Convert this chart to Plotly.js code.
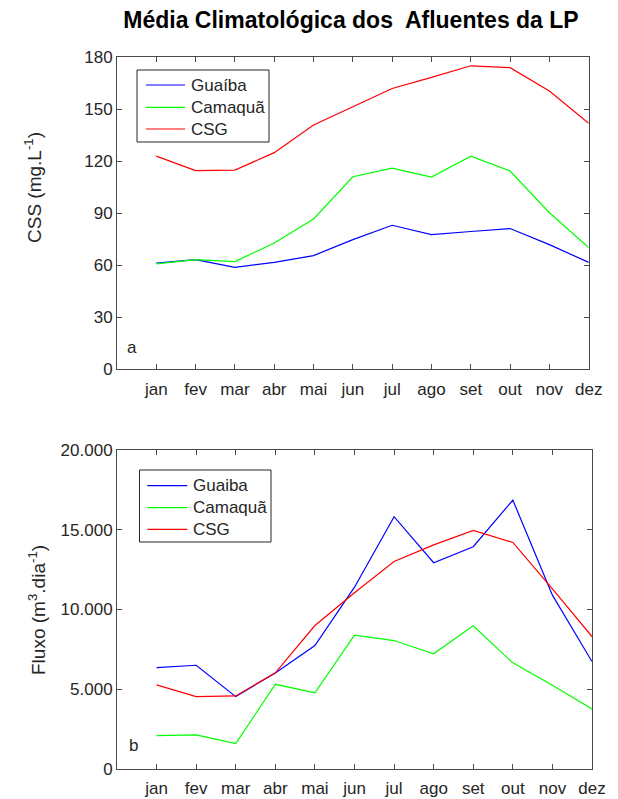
<!DOCTYPE html>
<html>
<head>
<meta charset="utf-8">
<script src="https://cdn.plot.ly/plotly-3.0.1.min.js"></script>
<style>html,body{margin:0;padding:0;background:#fff;}#chart{width:618px;height:799px;}</style>
</head>
<body>
<div id="chart"></div>
<script>
const months = ['jan','fev','mar','abr','mai','jun','jul','ago','set','out','nov','dez'];

// Panel a: CSS (mg.L-1)
const cssGuaiba  = [61.3, 63.3, 58.8, 61.7, 65.6, 74.8, 83.1, 77.7, 79.5, 81.2, 71.9, 61.7];
const cssCamaqua = [60.8, 63.3, 62.1, 72.9, 86.7, 111.1, 116.1, 110.9, 123.0, 114.4, 90.3, 70.2];
const cssCSG     = [123.0, 114.6, 114.9, 125.0, 141.0, 151.6, 162.0, 168.4, 175.1, 174.0, 160.5, 142.0];

// Panel b: Fluxo (m3.dia-1)
const flxGuaiba  = [6359, 6504, 4539, 6026, 7740, 11400, 15819, 12931, 13936, 16861, 10900, 6736];
const flxCamaqua = [2090, 2134, 1588, 5311, 4771, 8387, 8054, 7219, 8977, 6654, 5248, 3766];
const flxCSG     = [5273, 4539, 4582, 6026, 8996, 11050, 13013, 14050, 14959, 14206, 11300, 8305];

const names1 = ['Guaíba', 'Camaquã', 'CSG'];
const names2 = ['Guaiba', 'Camaquã', 'CSG'];
const colors = ['#0000ff', '#00ff00', '#ff0000'];

const FONT = 'Liberation Sans, Arial, Helvetica, sans-serif';
const INK = '#262626';

function tr(y, name, color, xa, ya) {
  return {x: months, y: y, name: name, type: 'scatter', mode: 'lines',
          line: {color: color, width: 1.2}, xaxis: xa, yaxis: ya, showlegend: false};
}

const data = [
  tr(cssGuaiba,  names1[0], colors[0], 'x',  'y'),
  tr(cssCamaqua, names1[1], colors[1], 'x',  'y'),
  tr(cssCSG,     names1[2], colors[2], 'x',  'y'),
  tr(flxGuaiba,  names2[0], colors[0], 'x2', 'y2'),
  tr(flxCamaqua, names2[1], colors[1], 'x2', 'y2'),
  tr(flxCSG,     names2[2], colors[2], 'x2', 'y2')
];

const axCommon = {
  showgrid: false, zeroline: false, showline: true, linecolor: '#4a4a4a', linewidth: 1,
  mirror: 'ticks', ticks: 'inside', ticklen: 5, tickcolor: '#4a4a4a', tickwidth: 1,
  fixedrange: true
};
const xTick = {tickfont: {family: FONT, size: 17, color: INK}, ticklabelstandoff: 4};
const yTick = {tickfont: {family: FONT, size: 17, color: INK}};

const W = 618, H = 799;
const px = v => v / W;
const py = v => 1 - v / H;

// Manual legend boxes (paper coordinates)
function legendBox(x0, x1, y0, y1, lineX0, lineX1, textX, rowsY, names) {
  const shapes = [{type: 'rect', xref: 'paper', yref: 'paper', x0: px(x0), x1: px(x1), y0: py(y1), y1: py(y0),
                   line: {color: INK, width: 1}, fillcolor: '#ffffff', layer: 'above'}];
  const anns = [];
  names.forEach((n, i) => {
    shapes.push({type: 'line', xref: 'paper', yref: 'paper', x0: px(lineX0), x1: px(lineX1),
                 y0: py(rowsY[i]), y1: py(rowsY[i]), line: {color: colors[i], width: 1.2}, layer: 'above'});
    anns.push({text: n, x: px(textX), y: py(rowsY[i]), xref: 'paper', yref: 'paper', showarrow: false,
               xanchor: 'left', yanchor: 'middle', font: {family: FONT, size: 17, color: INK}});
  });
  return {shapes, anns};
}
const leg1 = legendBox(137, 269, 70, 142, 146, 185, 189, [85, 107.3, 129], names1);
const leg2 = legendBox(139.5, 271, 470, 542, 147.3, 187.3, 191, [485.7, 507.7, 529.3], names2);

const layout = {
  width: W, height: H,
  margin: {l: 0, r: 0, t: 0, b: 0},
  paper_bgcolor: '#ffffff', plot_bgcolor: '#ffffff',
  separators: ',.',
  font: {family: FONT, color: INK},
  showlegend: false,
  title: {text: '<b>Média Climatológica dos  Afluentes da LP</b>', x: px(351), xanchor: 'center',
          y: py(20), yanchor: 'middle', xref: 'paper', yref: 'paper',
          font: {family: FONT, size: 23, color: '#000000'}},
  xaxis: Object.assign({}, axCommon, xTick, {type: 'category', range: [-1, 11], domain: [px(117), px(588.7)], anchor: 'y'}),
  yaxis: Object.assign({}, axCommon, yTick, {range: [0, 180], dtick: 30, tick0: 0, domain: [py(369.3), py(57.3)], anchor: 'x'}),
  xaxis2: Object.assign({}, axCommon, xTick, {type: 'category', range: [-1, 11], domain: [px(117), px(592)], anchor: 'y2'}),
  yaxis2: Object.assign({}, axCommon, yTick, {range: [0, 20000], dtick: 5000, tick0: 0, tickformat: ',.0f', domain: [py(769), py(450)], anchor: 'x2'}),
  shapes: leg1.shapes.concat(leg2.shapes),
  annotations: [
    {text: 'a', x: px(132), y: py(347), xref: 'paper', yref: 'paper', showarrow: false,
     font: {family: FONT, size: 17, color: INK}, xanchor: 'center', yanchor: 'middle'},
    {text: 'b', x: px(133), y: py(745), xref: 'paper', yref: 'paper', showarrow: false,
     font: {family: FONT, size: 17, color: INK}, xanchor: 'center', yanchor: 'middle'},
    {text: 'CSS (mg.L<sup>-1</sup>)', x: px(33), y: py(188), xref: 'paper', yref: 'paper', showarrow: false,
     textangle: -90, font: {family: FONT, size: 19, color: INK}, xanchor: 'center', yanchor: 'middle'},
    {text: 'Fluxo (m<sup>3</sup>.dia<sup>-1</sup>)', x: px(37), y: py(610), xref: 'paper', yref: 'paper', showarrow: false,
     textangle: -90, font: {family: FONT, size: 19, color: INK}, xanchor: 'center', yanchor: 'middle'}
  ].concat(leg1.anns, leg2.anns)
};

Plotly.newPlot('chart', data, layout, {staticPlot: true, displayModeBar: false});
</script>
</body>
</html>
